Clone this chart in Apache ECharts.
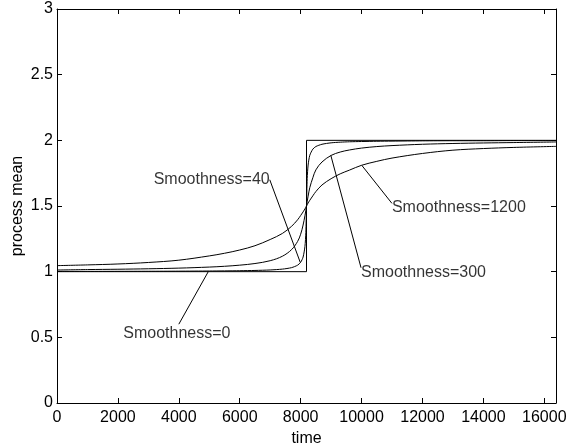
<!DOCTYPE html>
<html>
<head>
<meta charset="utf-8">
<script src="https://cdn.jsdelivr.net/npm/echarts@6/dist/echarts.min.js"></script>
<style>html,body{margin:0;padding:0;background:#fff;}#c{width:570px;height:445px;}</style>
</head>
<body>
<div id="c"></div>
<script>
// sample times
const xs = [0, 1000, 2000, 3000, 4000, 5000, 5500, 6000, 6500, 7000, 7400, 7700, 7900, 8000, 8080, 8140, 8170, 8192, 8215, 8245, 8300, 8400, 8500, 8700, 9000, 9300, 9600, 10000, 10500, 11000, 12000, 13000, 14000, 15000, 16384];
// process mean
const s40   = [1.002, 1.0022, 1.0026, 1.003, 1.0038, 1.005, 1.0059, 1.0072, 1.0093, 1.013, 1.0194, 1.0306, 1.0494, 1.0714, 1.111, 1.19, 1.297, 1.50, 1.709, 1.812, 1.886, 1.933, 1.953, 1.970, 1.981, 1.986, 1.989, 1.991, 1.993, 1.994, 1.996, 1.997, 1.997, 1.998, 1.998];
const s300  = [1.0125, 1.016, 1.0185, 1.022, 1.027, 1.035, 1.041, 1.0495, 1.062, 1.0835, 1.1175, 1.1675, 1.23, 1.285, 1.355, 1.425, 1.465, 1.50, 1.535, 1.575, 1.64, 1.715, 1.775, 1.835, 1.885, 1.911, 1.9265, 1.941, 1.9525, 1.96, 1.97, 1.976, 1.98, 1.983, 1.9875];
const s1200 = [1.046, 1.0515, 1.0585, 1.07, 1.0875, 1.12, 1.14, 1.165, 1.1975, 1.245, 1.291, 1.345, 1.395, 1.4275, 1.455, 1.4775, 1.49, 1.50, 1.51, 1.523, 1.5435, 1.5775, 1.61, 1.66, 1.708, 1.745, 1.773, 1.81, 1.84, 1.865, 1.90, 1.925, 1.9375, 1.946, 1.954];
// smoothness = 0 (step)
const stepX = [0, 8192, 8192, 16384];
const stepY = [1, 1, 2, 2];
// annotations: label text, text anchor point, curve point
const annTexts = ['Smoothness=0', 'Smoothness=40', 'Smoothness=300', 'Smoothness=1200'];
const annFromX = [4000, 6985, 9982, 10997];
const annFromY = [0.60, 1.70, 1.03, 1.52];
const annToX   = [4967, 7988, 8991, 10006];
const annToY   = [1.00, 1.07, 1.885, 1.81];
// axis ticks
const xTickStep = 2000;
const yTickStep = 0.5;

const FONT = 'Liberation Sans, Arial, Helvetica, sans-serif';
const FS = 16;
const toPairs = (a, b) => a.map((v, i) => [v, b[i]]);
const lineStyle = { color: '#000', width: 1 };

const series = [
  { name: 'Smoothness=0', type: 'line', data: toPairs(stepX, stepY) },
  { name: 'Smoothness=40', type: 'line', data: toPairs(xs, s40), smooth: 0.25 },
  { name: 'Smoothness=300', type: 'line', data: toPairs(xs, s300), smooth: 0.35 },
  { name: 'Smoothness=1200', type: 'line', data: toPairs(xs, s1200), smooth: 0.35 }
].map(s => Object.assign(s, { showSymbol: false, symbol: 'none', lineStyle, z: 3, silent: true }));

annTexts.forEach((t, i) => {
  series.push({
    type: 'line', symbol: 'none', lineStyle, silent: true,
    data: [[annFromX[i], annFromY[i]], [annToX[i], annToY[i]]]
  });
});

const labelPos = [
  { position: 'bottom', distance: 1, offset: [-2, 0] },
  { position: 'left', distance: 0, offset: [0, 0] },
  { position: 'right', distance: 0, offset: [0, 5] },
  { position: 'right', distance: 0, offset: [0, 4] }
];
series.push({
  type: 'scatter', symbolSize: 0, silent: true,
  data: annTexts.map((t, i) => ({
    value: [annFromX[i], annFromY[i]],
    label: Object.assign({ show: true, formatter: t, color: '#000', fontSize: FS, fontFamily: FONT }, labelPos[i])
  }))
});

const axisCommon = {
  axisLine: { show: true, onZero: false, lineStyle: { color: '#000', width: 1 } },
  axisTick: { show: true, inside: true, length: 5, lineStyle: { color: '#000' } },
  splitLine: { show: false }
};

const option = {
  animation: false,
  backgroundColor: '#fff',
  grid: { left: 57, right: 14, top: 9, bottom: 42, containLabel: false, outerBoundsMode: 'none' },
  xAxis: [
    Object.assign({
      type: 'value', min: 0, max: 16384, interval: xTickStep, position: 'bottom',
      name: 'time', nameLocation: 'middle', nameGap: 28, nameMoveOverlap: false,
      nameTextStyle: { color: '#000', fontSize: FS, fontFamily: FONT },
      axisLabel: { color: '#000', fontSize: FS, fontFamily: FONT, margin: 7, showMaxLabel: false,
        formatter: v => (v % xTickStep === 0 ? String(v) : '') }
    }, axisCommon),
    Object.assign({
      type: 'value', min: 0, max: 16384, interval: xTickStep, position: 'top',
      axisLabel: { show: false }
    }, axisCommon)
  ],
  yAxis: [
    Object.assign({
      type: 'value', min: 0, max: 3, interval: yTickStep, position: 'left',
      name: 'process mean', nameLocation: 'middle', nameGap: 31, nameRotate: 90, nameMoveOverlap: false,
      nameTextStyle: { color: '#000', fontSize: FS, fontFamily: FONT },
      axisLabel: { color: '#000', fontSize: FS, fontFamily: FONT, margin: 4 }
    }, axisCommon),
    Object.assign({
      type: 'value', min: 0, max: 3, interval: yTickStep, position: 'right',
      axisLabel: { show: false }
    }, axisCommon)
  ],
  series
};

echarts.init(document.getElementById('c'), null, { renderer: 'canvas' }).setOption(option);
</script>
</body>
</html>
